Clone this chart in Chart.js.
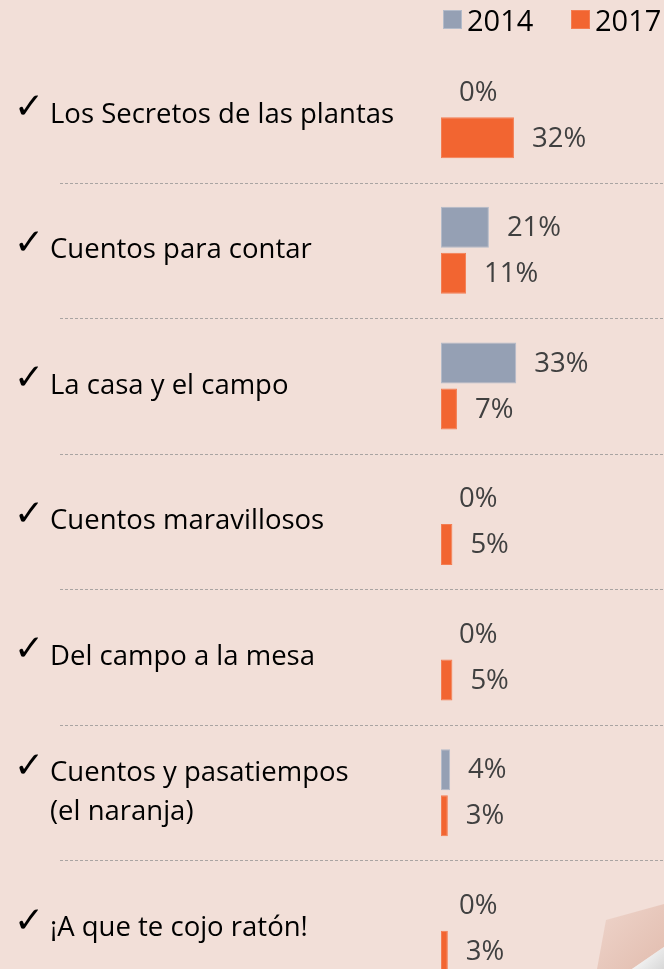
<!DOCTYPE html>
<html><head><meta charset="utf-8">
<script src="https://cdn.jsdelivr.net/npm/chart.js@4.4.1/dist/chart.umd.min.js"></script>
<style>
html,body{margin:0;padding:0;background:#F2DFD8;overflow:hidden;width:664px;height:969px}
#wrap{position:absolute;left:0;top:0;width:664px;height:1000px}
.lg{position:absolute;top:5px;height:30px;line-height:30px;font-family:"Open Sans",sans-serif;font-size:29px;color:#000;white-space:nowrap}
.lg i{position:absolute;left:0;top:5px;width:19px;height:19px;box-sizing:border-box}
.lg span{position:absolute;left:24px;top:0}
</style></head>
<body>
<div id="wrap"><canvas id="c"></canvas></div>
<div id="legend"></div>
<script>
const categories = [
  'Los Secretos de las plantas',
  'Cuentos para contar',
  'La casa y el campo',
  'Cuentos maravillosos',
  'Del campo a la mesa',
  ['Cuentos y pasatiempos', '(el naranja)'],
  '¡A que te cojo ratón!'
];
const seriesNames = ['2014', '2017'];
const values2014 = [0, 21, 33, 0, 0, 4, 0];
const values2017 = [32, 11, 7, 5, 5, 3, 3];
const seriesFill = ['#95A0B4', '#F26531'];
const seriesBorder = ['#B4BBC9', '#F47D52'];
const legendLeft = [443, 571];

// HTML legend built from series names/colours
const lg = document.getElementById('legend');
seriesNames.forEach((n, i) => {
  const d = document.createElement('div');
  d.className = 'lg';
  d.style.left = legendLeft[i] + 'px';
  d.innerHTML = '<i style="background:' + seriesFill[i] + ';border:1px solid ' + seriesBorder[i] + '"></i><span>' + n + '</span>';
  lg.appendChild(d);
});

const LABEL_FONT = '27.5px "Open Sans"';

const valueLabels = {
  id: 'valueLabels',
  afterDatasetsDraw(chart) {
    const ctx = chart.ctx;
    ctx.save();
    ctx.font = LABEL_FONT;
    ctx.fillStyle = '#404040';
    ctx.textAlign = 'left';
    ctx.textBaseline = 'middle';
    chart.data.datasets.forEach((ds, i) => {
      const meta = chart.getDatasetMeta(i);
      meta.data.forEach((bar, j) => {
        ctx.fillText(ds.data[j] + '%', bar.x + 18, bar.y + 1);
      });
    });
    ctx.restore();
  }
};

const separators = {
  id: 'separators',
  beforeDatasetsDraw(chart) {
    const ctx = chart.ctx, ys = chart.scales.y;
    ctx.save();
    ctx.strokeStyle = '#A9A4A2';
    ctx.lineWidth = 1;
    ctx.setLineDash([3, 2]);
    for (let i = 0; i < ys.ticks.length - 1; i++) {
      const y = Math.round((ys.getPixelForTick(i) + ys.getPixelForTick(i + 1)) / 2) + 0.5;
      ctx.beginPath();
      ctx.moveTo(60, y);
      ctx.lineTo(chart.width, y);
      ctx.stroke();
    }
    ctx.restore();
  }
};

const checks = {
  id: 'checks',
  afterDraw(chart) {
    const ctx = chart.ctx, ys = chart.scales.y;
    const opts = ys.options.ticks.font;
    const lh = opts.size * opts.lineHeight;
    ctx.save();
    ctx.font = 'bold 36px "DejaVu Sans"';
    ctx.fillStyle = '#000';
    ctx.textAlign = 'left';
    ctx.textBaseline = 'middle';
    chart.data.labels.forEach((lab, i) => {
      const n = Array.isArray(lab) ? lab.length : 1;
      const y = ys.getPixelForTick(i) - (n - 1) * lh / 2 - 6;
      ctx.fillText('\u2713', 14, y);
    });
    ctx.restore();
  }
};

const pageCurl = {
  id: 'pageCurl',
  afterDraw(chart) {
    const ctx = chart.ctx;
    const W = chart.width, H = 969;
    ctx.save();
    const g = ctx.createLinearGradient(W - 60, H - 60, W, H);
    g.addColorStop(0, '#EDD2C8');
    g.addColorStop(1, '#E2BDAF');
    ctx.fillStyle = g;
    ctx.beginPath();
    ctx.moveTo(W - 58, H - 49);
    ctx.lineTo(W, H - 65);
    ctx.lineTo(W, H - 22);
    ctx.lineTo(W - 32, H);
    ctx.lineTo(W - 67, H);
    ctx.closePath();
    ctx.fill();
    const g2 = ctx.createLinearGradient(W - 25, H - 25, W, H);
    g2.addColorStop(0, '#FFFFFF');
    g2.addColorStop(1, '#D8D8D8');
    ctx.fillStyle = g2;
    ctx.beginPath();
    ctx.moveTo(W, H - 22);
    ctx.lineTo(W, H);
    ctx.lineTo(W - 32, H);
    ctx.closePath();
    ctx.fill();
    ctx.restore();
  }
};

new Chart(document.getElementById('c'), {
  type: 'bar',
  data: {
    labels: categories,
    datasets: seriesNames.map((n, i) => ({
      label: n,
      data: i === 0 ? values2014 : values2017,
      backgroundColor: seriesFill[i],
      borderColor: seriesBorder[i],
      borderWidth: c => (c.raw ? 1 : 0),
      borderSkipped: false,
      categoryPercentage: 0.6786,
      barPercentage: 0.891
    }))
  },
  options: {
    indexAxis: 'y',
    responsive: true,
    maintainAspectRatio: false,
    animation: false,
    layout: { padding: { left: 50, top: 47, right: 0, bottom: 4 } },
    plugins: { legend: { display: false }, tooltip: { enabled: false } },
    scales: {
      x: { display: false, min: 0, max: 97.8 },
      y: {
        grid: { display: false },
        border: { display: false },
        ticks: {
          crossAlign: 'far',
          color: '#000',
          padding: 0,
          font: { family: 'Open Sans', size: 27.5, lineHeight: 1.4 }
        },
        afterFit(s) { s.width = 391; s.paddingTop = 0; s.paddingBottom = 0; }
      }
    }
  },
  plugins: [separators, valueLabels, checks, pageCurl]
});
</script>
</body></html>
